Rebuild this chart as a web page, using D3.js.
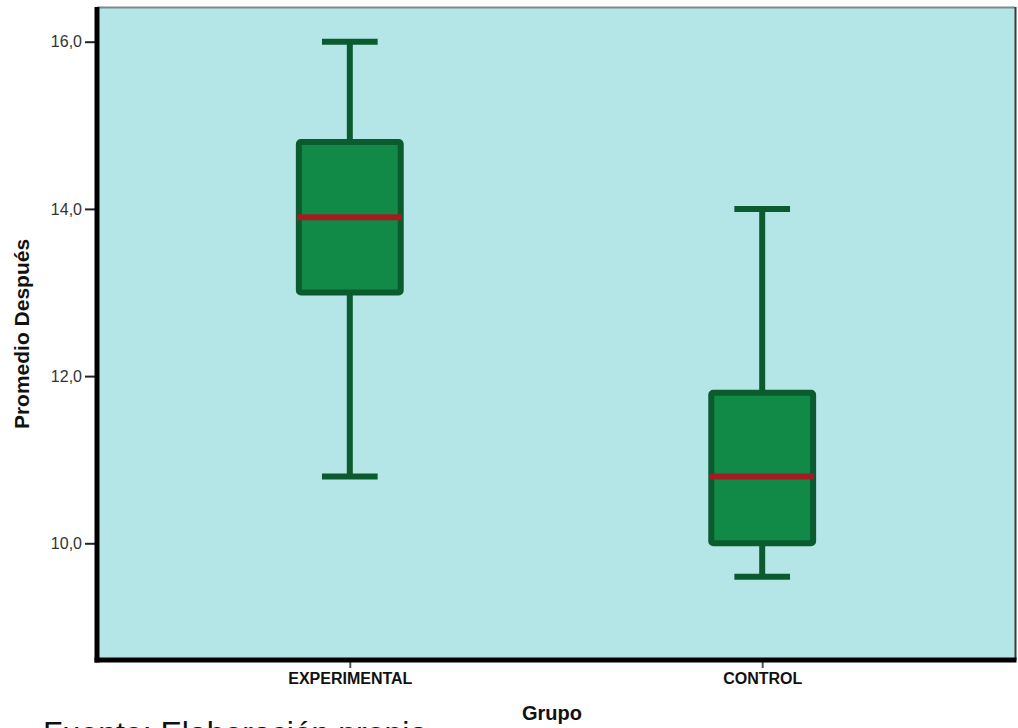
<!DOCTYPE html>
<html>
<head>
  <meta charset="utf-8">
  <title>Promedio Después por Grupo</title>
  <script src="https://d3js.org/d3.v7.min.js"></script>
  <style>
    body { margin: 0; background: #fff; }
    text { font-family: Arial, "Liberation Sans", sans-serif; }
  </style>
</head>
<body>
  <script>
    var w = 1018;
    var h = 728;

    // data
    var grupos = ["EXPERIMENTAL", "CONTROL"];
    var minimos = [10.8, 9.6];
    var q1 = [13.0, 10.0];
    var medianas = [13.9, 10.8];
    var q3 = [14.8, 11.8];
    var maximos = [16.0, 14.0];
    var yTicks = [10, 12, 14, 16];

    var boxes = grupos.map(function(g, i) {
      return {grupo: g, min: minimos[i], q1: q1[i], med: medianas[i], q3: q3[i], max: maximos[i]};
    });

    // plot frame
    var pLeft = 97, pRight = 1015, pTop = 8, pBottom = 660;

    var svg = d3.select("body").append("svg")
      .attr("width", w)
      .attr("height", h);

    var y = d3.scaleLinear().domain([10, 16]).range([543.3, 41.7]);
    var x = d3.scalePoint().domain(grupos).range([pLeft, pRight]).padding(0.613);

    var boxW = x.step() * 0.247;
    var capW = x.step() * 0.135;

    // background
    svg.append("rect")
      .attr("x", pLeft).attr("y", pTop)
      .attr("width", pRight - pLeft).attr("height", pBottom - pTop)
      .attr("fill", "#b4e6e7");

    // top / right frame
    svg.append("line")
      .attr("x1", pLeft).attr("x2", pRight).attr("y1", pTop - 0.5).attr("y2", pTop - 0.5)
      .attr("stroke", "#7a8a8a").attr("stroke-width", 2);
    svg.append("line")
      .attr("x1", pRight + 0.5).attr("x2", pRight + 0.5).attr("y1", pTop - 1).attr("y2", pBottom)
      .attr("stroke", "#3a3a3a").attr("stroke-width", 2);

    // y axis
    var yAxis = d3.axisLeft(y)
      .tickValues(yTicks)
      .tickSize(10)
      .tickPadding(3)
      .tickFormat(function(d) { return d3.format(".1f")(d).replace(".", ","); });

    var gy = svg.append("g")
      .attr("transform", "translate(" + (pLeft - 2) + ",0)")
      .call(yAxis);
    gy.select(".domain").remove();
    gy.selectAll(".tick line").attr("stroke", "#222").attr("stroke-width", 2);
    gy.selectAll(".tick text")
      .attr("fill", "#333")
      .style("font-size", "16px")
      .style("font-family", "Arial, 'Liberation Sans', sans-serif");

    // x axis
    var xAxis = d3.axisBottom(x).tickSize(8).tickPadding(5);
    var gx = svg.append("g")
      .attr("transform", "translate(0," + pBottom + ")")
      .call(xAxis);
    gx.select(".domain").remove();
    gx.selectAll(".tick line").attr("stroke", "#555").attr("stroke-width", 2);
    gx.selectAll(".tick text")
      .attr("fill", "#111")
      .style("font-size", "16px")
      .style("font-weight", "bold")
      .style("font-family", "Arial, 'Liberation Sans', sans-serif");

    // thick axis lines
    svg.append("line")
      .attr("x1", pLeft).attr("x2", pLeft).attr("y1", pTop - 1).attr("y2", pBottom + 2.5)
      .attr("stroke", "#000").attr("stroke-width", 5);
    svg.append("line")
      .attr("x1", pLeft - 2.5).attr("x2", pRight + 1.5).attr("y1", pBottom).attr("y2", pBottom)
      .attr("stroke", "#000").attr("stroke-width", 5);

    var stroke = "#0b5b2f";
    var g = svg.selectAll(".box")
      .data(boxes)
      .enter()
      .append("g")
      .attr("class", "box");

    // whiskers
    g.append("line")
      .attr("x1", function(d) { return x(d.grupo); })
      .attr("x2", function(d) { return x(d.grupo); })
      .attr("y1", function(d) { return y(d.max); })
      .attr("y2", function(d) { return y(d.q3); })
      .attr("stroke", stroke).attr("stroke-width", 6);
    g.append("line")
      .attr("x1", function(d) { return x(d.grupo); })
      .attr("x2", function(d) { return x(d.grupo); })
      .attr("y1", function(d) { return y(d.q1); })
      .attr("y2", function(d) { return y(d.min); })
      .attr("stroke", stroke).attr("stroke-width", 6);

    // caps
    g.append("line")
      .attr("x1", function(d) { return x(d.grupo) - capW / 2; })
      .attr("x2", function(d) { return x(d.grupo) + capW / 2; })
      .attr("y1", function(d) { return y(d.max); })
      .attr("y2", function(d) { return y(d.max); })
      .attr("stroke", stroke).attr("stroke-width", 6);
    g.append("line")
      .attr("x1", function(d) { return x(d.grupo) - capW / 2; })
      .attr("x2", function(d) { return x(d.grupo) + capW / 2; })
      .attr("y1", function(d) { return y(d.min); })
      .attr("y2", function(d) { return y(d.min); })
      .attr("stroke", stroke).attr("stroke-width", 6);

    // box
    g.append("rect")
      .attr("x", function(d) { return x(d.grupo) - boxW / 2; })
      .attr("y", function(d) { return y(d.q3); })
      .attr("width", boxW)
      .attr("height", function(d) { return y(d.q1) - y(d.q3); })
      .attr("rx", 2)
      .attr("fill", "#118a48")
      .attr("stroke", stroke)
      .attr("stroke-width", 6);

    // median
    g.append("line")
      .attr("x1", function(d) { return x(d.grupo) - boxW / 2 - 2; })
      .attr("x2", function(d) { return x(d.grupo) + boxW / 2 + 1; })
      .attr("y1", function(d) { return y(d.med); })
      .attr("y2", function(d) { return y(d.med); })
      .attr("stroke", "#a41c21").attr("stroke-width", 6);

    // titles
    svg.append("text")
      .attr("transform", "translate(29," + ((pTop + pBottom) / 2) + ") rotate(-90)")
      .attr("text-anchor", "middle")
      .attr("font-size", "21px")
      .attr("font-weight", "bold")
      .attr("fill", "#111")
      .text("Promedio Después");

    svg.append("text")
      .attr("x", 552)
      .attr("y", 720)
      .attr("text-anchor", "middle")
      .attr("font-size", "20px")
      .attr("font-weight", "bold")
      .attr("fill", "#111")
      .text("Grupo");

    svg.append("text")
      .attr("x", 43)
      .attr("y", 744)
      .attr("font-size", "32px")
      .attr("fill", "#111")
      .text("Fuente: Elaboración propia");
  </script>
</body>
</html>
